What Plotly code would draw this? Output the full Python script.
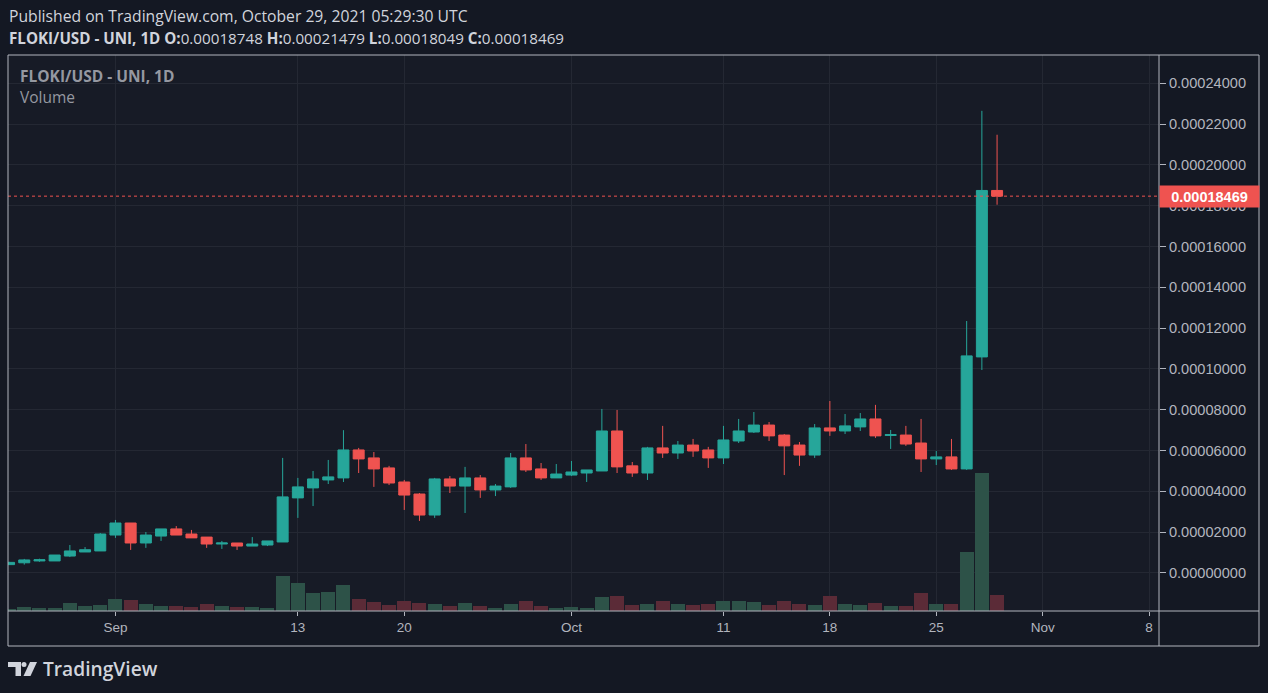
import plotly.graph_objects as go
import pandas as pd

# FLOKI/USD daily candles, Aug 25 - Oct 29 2021 (prices in units of 1e-5 USD)
dates = pd.date_range("2021-08-25", "2021-10-29", freq="D")

opens = [0.41, 0.50, 0.59, 0.59, 0.83, 1.03, 1.08,
         1.86, 2.45, 1.47, 1.81, 2.16, 1.91, 1.76, 1.42, 1.47, 1.32, 1.37, 1.52, 3.68,
         4.17, 4.56, 4.66, 6.03, 5.64, 5.15, 4.46, 3.87, 2.84, 4.61, 4.26, 4.66, 4.07,
         4.22, 5.64, 5.10, 4.66,
         4.80, 4.90, 5.00, 6.96, 5.25, 4.90, 6.13, 5.88, 6.27, 6.03, 5.64, 6.47, 6.91,
         7.25, 6.76, 6.27, 5.78, 7.11, 6.96, 7.16, 7.55, 6.74, 6.76, 6.37, 5.59, 5.69,
         5.10, 10.59, 18.748]
closes = [0.52, 0.64, 0.65, 0.88, 1.08, 1.14, 1.91,
          2.45, 1.47, 1.86, 2.16, 1.86, 1.72, 1.42, 1.47, 1.32, 1.42, 1.57, 3.73, 4.22,
          4.61, 4.71, 6.03, 5.59, 5.10, 4.41, 3.82, 2.84, 4.61, 4.26, 4.66, 4.07, 4.26,
          5.64, 5.05, 4.66, 4.85,
          4.95, 5.05, 6.96, 5.20, 4.90, 6.13, 5.88, 6.27, 5.98, 5.64, 6.52, 6.96, 7.25,
          6.72, 6.23, 5.78, 7.11, 6.96, 7.21, 7.55, 6.72, 6.78, 6.32, 5.59, 5.69, 5.10,
          10.64, 18.748, 18.469]
highs = [0.55, 0.69, 0.70, 0.88, 1.37, 1.27, 1.96,
         2.60, 2.45, 2.01, 2.16, 2.30, 2.11, 1.76, 1.57, 1.47, 1.76, 1.57, 5.64, 4.66,
         5.00, 5.54, 7.00, 6.13, 5.93, 5.25, 4.56, 3.92, 4.66, 4.75, 5.20, 4.80, 4.36,
         5.88, 6.32, 5.39, 5.34,
         5.49, 5.05, 8.04, 7.99, 5.44, 6.18, 7.21, 6.47, 6.57, 6.18, 7.21, 7.55, 7.89,
         7.40, 6.81, 6.42, 7.30, 8.43, 7.79, 7.84, 8.24, 7.01, 7.21, 7.55, 5.98, 6.57,
         12.35, 22.65, 21.479]
lows = [0.40, 0.41, 0.55, 0.59, 0.78, 1.03, 1.08,
        1.72, 1.13, 1.23, 1.57, 1.86, 1.72, 1.23, 1.18, 1.13, 1.32, 1.32, 1.52, 2.70,
        3.28, 4.36, 4.46, 4.90, 4.22, 4.31, 3.09, 2.55, 2.70, 3.92, 2.94, 3.68, 3.77,
        4.17, 4.95, 4.56, 4.66,
        4.75, 4.46, 5.00, 4.90, 4.71, 4.56, 5.64, 5.59, 5.69, 5.15, 5.34, 6.37, 6.86,
        6.47, 4.80, 5.25, 5.64, 6.72, 6.81, 6.96, 6.62, 6.08, 6.23, 4.95, 5.29, 5.05,
        5.05, 9.95, 18.049]
# relative daily volume
volumes = [2, 4, 3, 3, 8, 5, 6,
           12, 11, 7, 5, 5, 4, 7, 5, 4, 4, 3, 35, 28, 18, 19, 26, 12, 9, 6, 10, 8, 7,
           5, 8, 5, 3, 7, 10, 5, 3,
           4, 3, 14, 15, 6, 7, 10, 7, 6, 7, 10, 10, 9, 6, 10, 7, 6, 15, 7, 6, 8, 5, 5,
           18, 7, 7, 59, 138, 16]

price_ticks = [0, 2, 4, 6, 8, 10, 12, 14, 16, 18, 20, 22, 24]
date_ticks = ["2021-09-01", "2021-09-13", "2021-09-20", "2021-10-01", "2021-10-11",
              "2021-10-18", "2021-10-25", "2021-11-01", "2021-11-08"]
date_labels = ["Sep", "13", "20", "Oct", "11", "18", "25", "Nov", "8"]

scale = 1e-5
o = [v * scale for v in opens]
c = [v * scale for v in closes]
h = [v * scale for v in highs]
l = [v * scale for v in lows]

UP = "#26a69a"
DOWN = "#ef5350"
VOL_UP = "#2d5248"
VOL_DOWN = "#5b2b37"
TEXT = "#b2b5be"
GRID = "#242833"
BORDER = "#b2b5be"
FONT = "Open Sans"

W, H = 1268, 693
L_PX, R_PX, T_PX, B_PX = 8, 1159, 55, 611


def px_x(px):
    return (px - L_PX) / (R_PX - L_PX)


def px_y(py):
    return (B_PX - py) / (B_PX - T_PX)


fig = go.Figure()

vol_colors = [VOL_UP if cc >= oo else VOL_DOWN for oo, cc in zip(opens, closes)]
fig.add_trace(go.Bar(
    x=dates, y=volumes, marker_color=vol_colors, marker_line_width=0,
    width=0.92 * 86400000, yaxis="y2", showlegend=False, hoverinfo="skip"
))

fig.add_trace(go.Candlestick(
    x=dates, open=o, high=h, low=l, close=c,
    increasing=dict(line=dict(color=UP, width=1), fillcolor=UP),
    decreasing=dict(line=dict(color=DOWN, width=1), fillcolor=DOWN),
    whiskerwidth=0, showlegend=False
))

last = c[-1]
fig.add_shape(type="line", xref="paper", yref="y", x0=0, x1=1, y0=last, y1=last,
              line=dict(color=DOWN, width=1, dash="dot"))

# frame around price pane and axes
fig.add_shape(type="rect", xref="paper", yref="paper", x0=0, x1=px_x(1259),
              y0=px_y(646), y1=1, line=dict(color=BORDER, width=1), layer="above")
fig.add_shape(type="line", xref="paper", yref="paper", x0=1, x1=1,
              y0=px_y(646), y1=1, line=dict(color=BORDER, width=1), layer="above")
fig.add_shape(type="line", xref="paper", yref="paper", x0=0, x1=px_x(1259),
              y0=0, y1=0, line=dict(color=BORDER, width=1), layer="above")

# TradingView logo mark
fig.add_shape(type="path", xref="paper", yref="paper", fillcolor="#d1d4dc", line_width=0,
              path=f"M {px_x(8)},{px_y(662)} L {px_x(21)},{px_y(662)} L {px_x(21)},{px_y(676)} "
                   f"L {px_x(15.5)},{px_y(676)} L {px_x(15.5)},{px_y(667)} L {px_x(8)},{px_y(667)} Z")
fig.add_shape(type="circle", xref="paper", yref="paper", fillcolor="#d1d4dc", line_width=0,
              x0=px_x(21.5), x1=px_x(26.5), y0=px_y(667), y1=px_y(662))
fig.add_shape(type="path", xref="paper", yref="paper", fillcolor="#d1d4dc", line_width=0,
              path=f"M {px_x(30)},{px_y(662)} L {px_x(37)},{px_y(662)} L {px_x(30.5)},{px_y(676)} "
                   f"L {px_x(23.5)},{px_y(676)} Z")

annotations = [
    dict(text="Published on TradingView.com, October 29, 2021 05:29:30 UTC",
         x=px_x(7), y=px_y(16), font=dict(size=15.7, color="#d1d4dc")),
    dict(text="<b>FLOKI/USD - UNI, 1D O:</b>0.00018748 <b>H:</b>0.00021479 "
              "<b>L:</b>0.00018049 <b>C:</b>0.00018469",
         x=px_x(7), y=px_y(38), font=dict(size=15.2, color="#d1d4dc")),
    dict(text="<b>FLOKI/USD - UNI, 1D</b>", x=px_x(18), y=px_y(76),
         font=dict(size=15.5, color="#9598a1")),
    dict(text="Volume", x=px_x(18), y=px_y(97), font=dict(size=15.5, color="#9598a1")),
    dict(text="TradingView", x=px_x(41), y=px_y(668),
         font=dict(size=19.2, color="#d1d4dc", weight=600)),
]
for a in annotations:
    fig.add_annotation(xref="paper", yref="paper", xanchor="left", yanchor="middle",
                       showarrow=False, **a)

# last price marker on the price scale
fig.add_annotation(text="<b>0.00018469</b>", xref="paper", yref="y", x=1, y=last,
                   xanchor="left", yanchor="middle", showarrow=False, align="center",
                   bgcolor=DOWN, width=95, height=17, borderpad=2,
                   font=dict(size=14.5, color="#ffffff", family="Liberation Sans"))

fig.update_layout(
    width=W, height=H,
    margin=dict(l=L_PX, r=W - R_PX, t=T_PX, b=H - B_PX),
    paper_bgcolor="#141823", plot_bgcolor="#171b26",
    font=dict(family=FONT, color=TEXT, size=13),
    bargap=0, boxgap=0.15, boxgroupgap=0.15,
    xaxis=dict(
        type="date", rangeslider=dict(visible=False),
        range=["2021-08-24 22:20", "2021-11-08 15:40"],
        tickvals=date_ticks, ticktext=date_labels,
        showgrid=True, gridcolor=GRID, gridwidth=1,
        ticks="outside", ticklen=4, tickcolor=BORDER,
        tickfont=dict(size=13.5, color=TEXT, family="Liberation Sans"),
        showline=False, zeroline=False,
    ),
    yaxis=dict(
        side="right",
        range=[-0.00001863, 0.00025387],
        tickvals=[t * scale for t in price_ticks],
        ticktext=[f"{t * scale:.8f}" for t in price_ticks],
        showgrid=True, gridcolor=GRID, gridwidth=1,
        ticks="outside", ticklen=6, tickcolor=BORDER,
        tickfont=dict(size=14.6, color=TEXT, family="Liberation Sans"),
        zeroline=False, showline=False,
    ),
    yaxis2=dict(
        overlaying="y", range=[0, max(volumes) * 556 / 138],
        visible=False, showgrid=False, zeroline=False,
    ),
)

fig.write_html("out.html", config={"displayModeBar": False},
               post_script="document.body.style.margin='0';")
